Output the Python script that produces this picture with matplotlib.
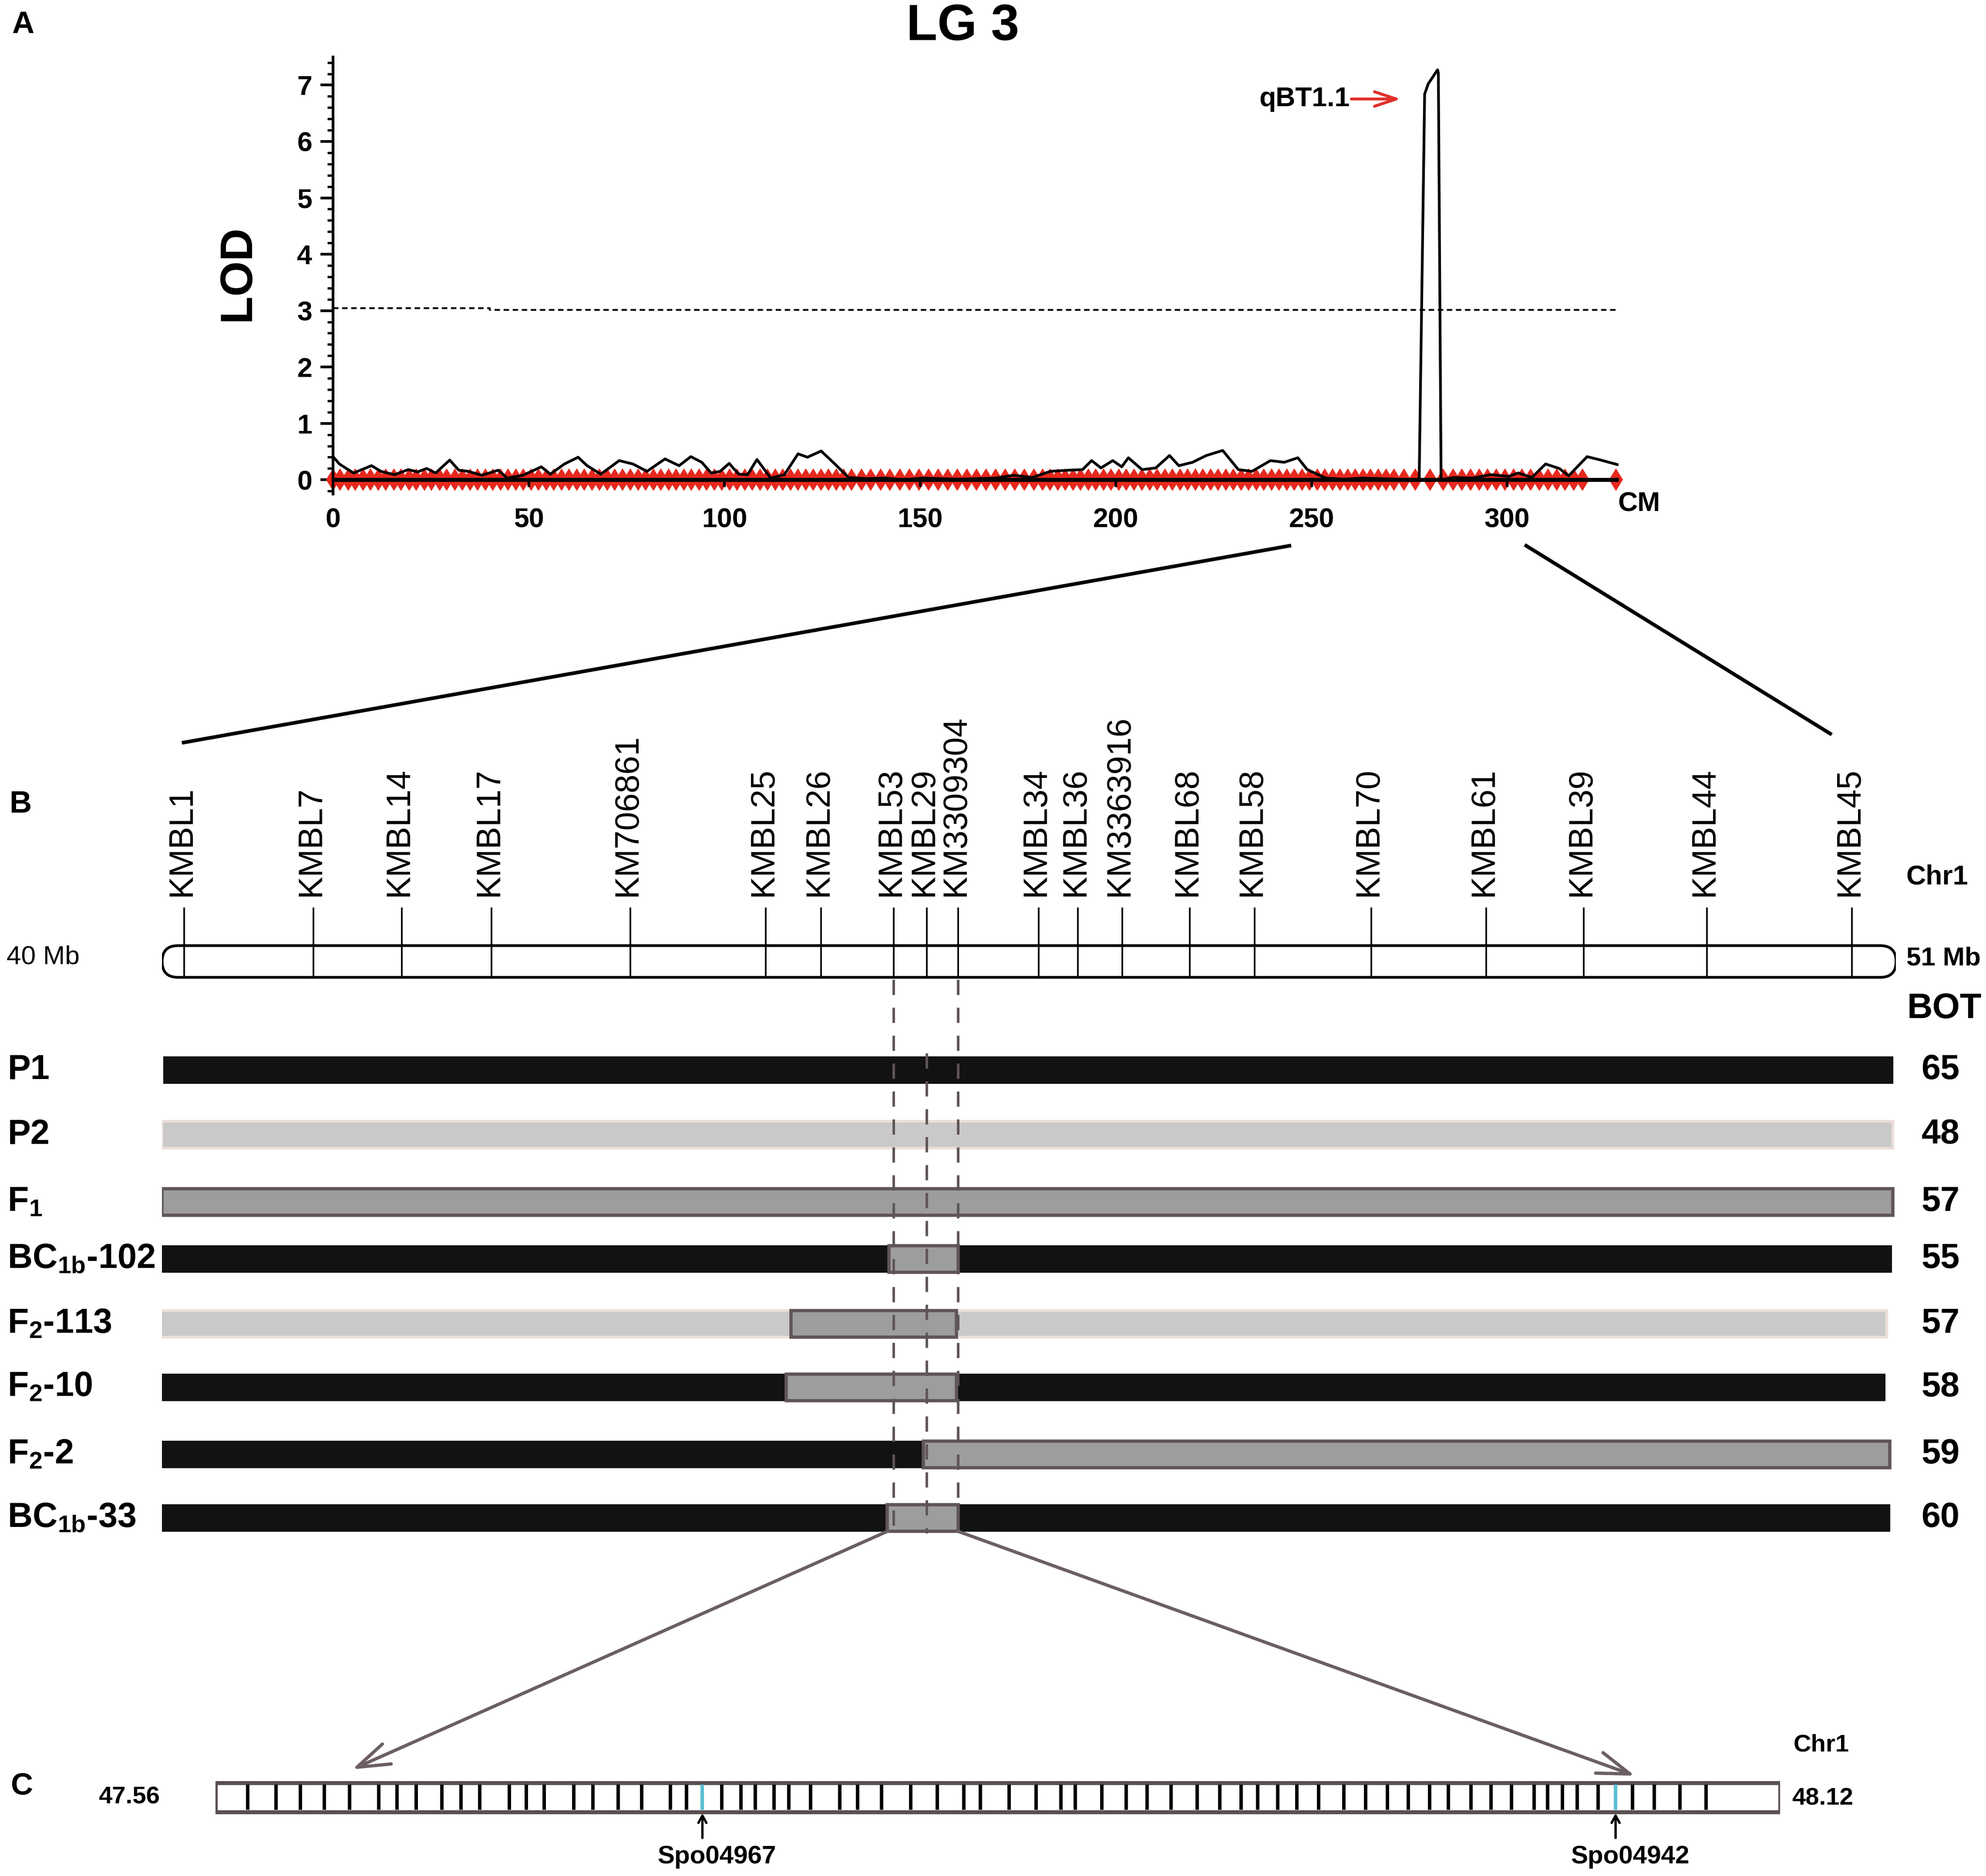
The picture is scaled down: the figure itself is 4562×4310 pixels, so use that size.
import matplotlib
matplotlib.use('Agg')
import matplotlib.pyplot as plt
from matplotlib.patches import FancyBboxPatch, Rectangle, ConnectionPatch
from matplotlib.ticker import MultipleLocator

plt.rcParams['font.family'] = ['Liberation Sans', 'DejaVu Sans']
plt.rcParams['mathtext.fontset'] = 'custom'
plt.rcParams['mathtext.rm'] = 'Liberation Sans:bold'
plt.rcParams['mathtext.it'] = 'Liberation Sans:bold'
plt.rcParams['mathtext.bf'] = 'Liberation Sans:bold'
plt.rcParams['mathtext.default'] = 'rm'

# ---------------- data: panel A (LOD profile, LG 3) ----------------
lod_cm = [0.0, 1.6, 5.2, 9.8, 12.2, 15.7, 19.2, 21.6, 23.9, 26.2, 29.8, 32.1, 34.5, 38.0,
          42.2, 44.5, 48.5, 53.2, 55.5, 59.1, 62.6, 64.9, 68.4, 73.1, 76.6, 80.2, 84.8,
          88.4, 91.4, 94.2, 96.6, 98.9, 101.2, 103.6, 105.9, 108.3, 111.8, 115.3, 118.8,
          121.2, 124.7, 128.2, 131.7, 136.4, 141.1, 145.8, 150.5, 159.8, 169.2, 173.9,
          178.6, 183.3, 188.0, 191.5, 193.8, 196.2, 199.2, 201.5, 203.2, 206.7, 210.2,
          213.7, 216.1, 219.6, 223.1, 227.3, 231.3, 234.8, 239.5, 243.0, 246.5, 248.9,
          253.6, 258.3, 262.9, 272.3, 277.5, 278.9, 279.8, 282.2, 282.4, 283.1, 286.4,
          291.1, 295.8, 300.4, 302.8, 306.3, 309.8, 313.3, 315.7, 320.4, 323.9, 328.1]
lod_val = [0.41, 0.28, 0.12, 0.25, 0.15, 0.09, 0.18, 0.14, 0.20, 0.12, 0.35, 0.17, 0.15, 0.08,
           0.17, 0.03, 0.08, 0.23, 0.10, 0.28, 0.40, 0.25, 0.10, 0.34, 0.28, 0.15, 0.37,
           0.25, 0.41, 0.31, 0.12, 0.15, 0.29, 0.10, 0.09, 0.36, 0.03, 0.09, 0.46,
           0.40, 0.51, 0.28, 0.04, 0.02, 0.03, 0.00, 0.03, 0.01, 0.03, 0.08,
           0.04, 0.15, 0.17, 0.18, 0.34, 0.21, 0.34, 0.23, 0.39, 0.18, 0.21,
           0.43, 0.25, 0.31, 0.43, 0.52, 0.18, 0.15, 0.34, 0.31, 0.39, 0.18,
           0.03, 0.01, 0.03, 0.01, 0.00, 6.84, 7.02, 7.27, 7.21, 0.00, 0.04,
           0.03, 0.09, 0.06, 0.12, 0.04, 0.28, 0.20, 0.07, 0.41, 0.35, 0.27]
marker_cm = [0.0, 1.8, 3.9, 5.6, 7.7, 9.5, 11.6, 13.4, 15.5, 17.3, 19.4, 21.2, 23.3, 25.1,
             27.2, 29.0, 31.1, 33.0, 35.0, 36.9, 38.9, 40.8, 42.8, 44.7, 46.7, 48.6, 50.6,
             52.5, 54.5, 56.4, 58.4, 60.3, 62.3, 64.2, 66.2, 68.1, 70.1, 72.0, 74.0, 75.9,
             77.9, 79.8, 81.8, 83.7, 85.7, 87.6, 89.6, 91.5, 93.5, 95.4, 97.4, 99.3, 101.3,
             103.2, 105.2, 107.1, 109.1, 111.0, 113.0, 114.9, 116.9, 118.8, 120.8, 122.7,
             124.7, 126.6, 128.6, 130.5, 132.5, 135.0, 137.4, 139.9, 142.3, 144.8, 147.2,
             149.7, 152.1, 154.6, 157.0, 159.5, 161.9, 164.4, 166.8, 169.3, 171.7, 174.2,
             176.6, 179.1, 181.3, 183.2, 185.2, 187.1, 189.1, 191.0, 193.0, 194.9, 196.9,
             198.8, 200.8, 202.7, 204.7, 206.6, 208.6, 210.5, 212.5, 214.4, 216.4, 218.3,
             220.3, 222.2, 224.2, 226.1, 228.1, 230.0, 232.0, 233.9, 235.9, 237.8, 239.8,
             241.7, 243.7, 245.6, 247.6, 249.5, 251.5, 253.4, 255.4, 257.3, 259.3, 261.2,
             263.2, 265.1, 267.1, 269.0, 271.0, 273.6, 276.5, 280.3, 283.6, 286.2, 288.4,
             290.6, 292.8, 295.0, 297.2, 299.4, 301.6, 303.8, 306.0, 308.2, 310.4, 312.6,
             314.8, 317.0, 319.2, 327.8]
threshold_cm = [0.0, 40.0, 40.0, 328.0]
threshold_lod = [3.04, 3.04, 3.01, 3.01]
x_ticks = [0, 50, 100, 150, 200, 250, 300]
y_ticks = [0, 1, 2, 3, 4, 5, 6, 7]
qtl_name = 'qBT1.1'

# ---------------- data: panel B (Chr1 fine map) ----------------
markers = ['KMBL1', 'KMBL7', 'KMBL14', 'KMBL17', 'KM706861', 'KMBL25', 'KMBL26', 'KMBL53',
           'KMBL29', 'KM3309304', 'KMBL34', 'KMBL36', 'KM3363916', 'KMBL68', 'KMBL58',
           'KMBL70', 'KMBL61', 'KMBL39', 'KMBL44', 'KMBL45']
marker_pos = [40.14, 40.96, 41.52, 42.09, 42.97, 43.83, 44.18, 44.64, 44.85, 45.05, 45.56,
              45.81, 46.09, 46.52, 46.93, 47.67, 48.40, 49.02, 49.80, 50.72]
chr_start, chr_end = 40, 51
lines_names = ['P1', 'P2', 'F$_{1}$', 'BC$_{1b}$-102', 'F$_{2}$-113', 'F$_{2}$-10',
               'F$_{2}$-2', 'BC$_{1b}$-33']
bot_values = [65, 48, 57, 55, 57, 58, 59, 60]
genotypes = [
    [(40.01, 50.98, 'A')],
    [(40.00, 50.98, 'B')],
    [(40.00, 50.98, 'H')],
    [(39.99, 44.61, 'A'), (44.61, 45.05, 'H'), (45.05, 50.97, 'A')],
    [(39.98, 43.99, 'B'), (43.99, 45.04, 'H'), (45.04, 50.94, 'B')],
    [(39.96, 43.96, 'A'), (43.96, 45.04, 'H'), (45.04, 50.93, 'A')],
    [(39.99, 44.83, 'A'), (44.83, 50.96, 'H')],
    [(39.98, 44.60, 'A'), (44.60, 45.05, 'H'), (45.05, 50.96, 'A')],
]

# ---------------- data: panel C (47.56-48.12 Mb) ----------------
c_start, c_end = 47.56, 48.12
c_markers = [47.5716, 47.5817, 47.5904, 47.5990, 47.6080, 47.6185, 47.6251, 47.6319, 47.6411,
             47.6479, 47.6547, 47.6652, 47.6713, 47.6777, 47.6882, 47.6951, 47.7041, 47.7126,
             47.7229, 47.7286, 47.7412, 47.7481, 47.7533, 47.7599, 47.7652, 47.7730, 47.7835,
             47.7898, 47.7984, 47.8088, 47.8184, 47.8279, 47.8338, 47.8440, 47.8537, 47.8626,
             47.8678, 47.8773, 47.8859, 47.8934, 47.9020, 47.9114, 47.9195, 47.9271, 47.9330,
             47.9402, 47.9470, 47.9548, 47.9638, 47.9717, 47.9795, 47.9870, 47.9946, 48.0013,
             48.0094, 48.0166, 48.0238, 48.0319, 48.0368, 48.0420, 48.0474, 48.0548, 48.0672,
             48.0750, 48.0841, 48.0935]
c_genes = ['Spo04967', 'Spo04942']
c_gene_pos = [47.7343, 48.0611]

# ---------------- figure / layout ----------------
W, H, DPI = 4562, 4310, 300
RW, RH = 1568.0, 1478.0   # layout grid


def rect(x0, y0, x1, y1):
    return [x0 / RW, 1 - y1 / RH, (x1 - x0) / RW, (y1 - y0) / RH]


fig = plt.figure(figsize=(W / DPI, H / DPI), dpi=DPI)
fig.patch.set_facecolor('white')

ov = fig.add_axes([0, 0, 1, 1])
ov.set_xlim(0, RW)
ov.set_ylim(RH, 0)
ov.axis('off')

# ---------------- panel A ----------------
axA = fig.add_axes(rect(263, 44.8, 1282.7, 389.1))
axA.set_xlim(0, 330)
axA.set_ylim(-0.25, 7.5)
axA.patch.set_alpha(0)
for s in ['top', 'right', 'bottom']:
    axA.spines[s].set_visible(False)
axA.spines['left'].set_linewidth(1.5)
axA.set_yticks(y_ticks)
axA.set_yticklabels([str(v) for v in y_ticks], fontsize=15, fontweight='bold')
axA.yaxis.set_minor_locator(MultipleLocator(0.2))
axA.tick_params(axis='y', which='major', length=7, width=1.5, pad=4.5)
axA.tick_params(axis='y', which='minor', length=3.2, width=1.3)
axA.set_xticks(x_ticks)
axA.set_xticklabels([str(v) for v in x_ticks], fontsize=15, fontweight='bold')
axA.tick_params(axis='x', length=0, pad=7.5)

axA.plot(marker_cm, [0] * len(marker_cm), ls='none', marker='d', ms=8.8, mew=0,
         color='#e8281e', zorder=2, clip_on=False)
axA.hlines(0, 0, 328.5, color='black', lw=2.2, zorder=3)
axA.vlines(x_ticks[1:], -0.13, 0, color='black', lw=1.5, zorder=3)
axA.plot(threshold_cm, threshold_lod, color='black', lw=1.0, ls=(0, (3, 2)), zorder=3)
axA.plot(lod_cm, lod_val, color='black', lw=1.5, zorder=4, solid_joinstyle='round')

ov.text(760, 21, 'LG 3', ha='center', va='center', fontsize=28, fontweight='bold')
ov.text(188, 215, 'LOD', ha='center', va='center', rotation=90, fontsize=25,
        fontweight='bold')
ov.text(1294, 397, 'CM', ha='center', va='center', fontsize=15, fontweight='bold')
ov.text(1030, 78, qtl_name, ha='center', va='center', fontsize=15, fontweight='bold')
ov.annotate('', xy=(1106, 78), xytext=(1067, 78),
            arrowprops=dict(arrowstyle='->,head_length=12,head_width=4', mutation_scale=1,
                            color='#e0302a', lw=1.6, shrinkA=0, shrinkB=0))

for lab, (x, y) in zip(['A', 'B', 'C'], [(18, 20), (16, 634), (17, 1408)]):
    ov.text(x, y, lab, ha='center', va='center', fontsize=17, fontweight='bold')

# connectors A -> B
ov.plot([1018, 145], [430, 585], color='black', lw=2.0)
ov.plot([1205, 1445], [430, 578], color='black', lw=2.0)

# ---------------- panel B ----------------
axB = fig.add_axes(rect(128, 0, 1497, RH))
axB.set_xlim(chr_start, chr_end)
axB.set_ylim(RH, 0)
axB.axis('off')
axB.patch.set_alpha(0)

px_per_mb = (1497 - 128) / (chr_end - chr_start)
capsule = FancyBboxPatch((chr_start, 745), chr_end - chr_start, 25,
                         boxstyle='round,pad=0,rounding_size=0.1',
                         mutation_aspect=px_per_mb * (H / RH) / (W / RW),
                         fc='white', ec='black', lw=1.5, zorder=2)
axB.add_patch(capsule)
axB.vlines(marker_pos, 715, 770, color='black', lw=0.9, zorder=3)
for name, pos in zip(markers, marker_pos):
    axB.annotate(name, xy=(pos, 706), xytext=(-1.5, 0), textcoords='offset points',
                 rotation=90, ha='center', va='bottom', fontsize=18.5)

ov.text(1505, 691, 'Chr1', ha='left', va='center', fontsize=15, fontweight='bold')
ov.text(5, 754, '40 Mb', ha='left', va='center', fontsize=14.5)
ov.text(1505, 755, '51 Mb', ha='left', va='center', fontsize=14.5, fontweight='bold')
ov.text(1535, 795, 'BOT', ha='center', va='center', fontsize=19.5, fontweight='bold')

row_y = [843, 894, 947, 992, 1043, 1093, 1146, 1196]
bar_h = 21
styles = {'A': dict(fc='#121212', ec='#121212', lw=0.5, z=3),
          'B': dict(fc='#c9c9c9', ec='#ecdeda', lw=1.5, z=3),
          'H': dict(fc='#9d9d9d', ec='#605557', lw=1.8, z=4)}
for yc, segs, lab, bot in zip(row_y, genotypes, lines_names, bot_values):
    for s, e, g in segs:
        st = styles[g]
        axB.add_patch(Rectangle((s, yc - bar_h / 2), e - s, bar_h, fc=st['fc'], ec=st['ec'],
                                lw=st['lw'], zorder=st['z']))
    ov.text(6, yc, lab, ha='left', va='center', fontsize=19, fontweight='bold')
    ov.text(1532, yc, str(bot), ha='center', va='center', fontsize=19, fontweight='bold')

dash_col = '#5f5557'
axB.vlines([marker_pos[7], marker_pos[9]], 772, 1208, color=dash_col, lw=1.4,
           linestyles=[(0, (6, 5))], zorder=6)
axB.vlines([marker_pos[8]], 830, 1208, color=dash_col, lw=1.4,
           linestyles=[(0, (6, 5))], zorder=6)

# ---------------- panel C ----------------
axC = fig.add_axes(rect(170, 0, 1405.5, RH))
axC.set_xlim(c_start, c_end)
axC.set_ylim(RH, 0)
axC.axis('off')
axC.patch.set_alpha(0)
axC.add_patch(Rectangle((c_start, 1404.5), c_end - c_start, 23, fc='white', ec='#5a4f52',
                        lw=2.2, zorder=2))
axC.vlines(c_markers, 1406, 1426, color='black', lw=1.9, zorder=3)
axC.vlines(c_gene_pos, 1406, 1426, color='#58c0d2', lw=1.9, zorder=3)
for g, pos in zip(c_genes, c_gene_pos):
    axC.annotate('', xy=(pos, 1428.5), xytext=(pos, 1448),
                 arrowprops=dict(arrowstyle='->,head_length=4,head_width=2.2',
                                 mutation_scale=1, color='black', lw=1.3,
                                 shrinkA=0, shrinkB=0))
    axC.annotate(g, xy=(pos, 1463), xytext=(8, 0), textcoords='offset points',
                 ha='center', va='center', fontsize=14, fontweight='bold')

ov.text(102, 1416, f'{c_start:.2f}', ha='center', va='center', fontsize=13.5,
        fontweight='bold')
ov.text(1439, 1417, f'{c_end:.2f}', ha='center', va='center', fontsize=13.5,
        fontweight='bold')
ov.text(1438, 1375, 'Chr1', ha='center', va='center', fontsize=13.5, fontweight='bold')

# connectors B -> C
con_col = '#6b5f62'
for xa, xb, yb in [(44.60, 47.609, 1394), (45.05, 48.068, 1399)]:
    cp = ConnectionPatch(xyA=(xa, 1206.5), coordsA=axB.transData,
                         xyB=(xb, yb), coordsB=axC.transData,
                         arrowstyle='->,head_length=18,head_width=6', mutation_scale=1,
                         color=con_col, lw=1.8, shrinkA=0, shrinkB=0, zorder=5)
    fig.add_artist(cp)

fig.savefig('out.png', dpi=DPI, facecolor='white')
